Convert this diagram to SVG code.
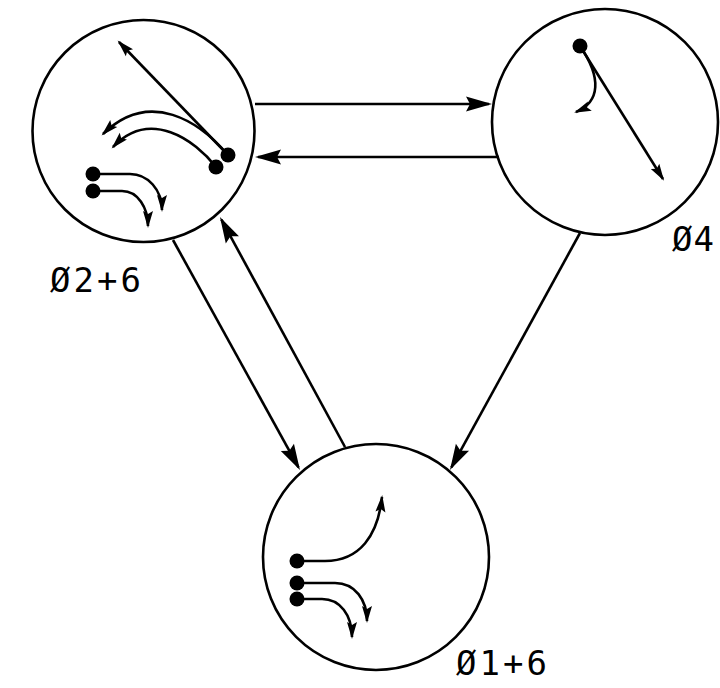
<svg xmlns="http://www.w3.org/2000/svg" width="720" height="688" viewBox="0 0 720 688">
<style>
.node{fill:none;stroke:#000;stroke-width:2.6}
.edge{fill:none;stroke:#000;stroke-width:2.6;marker-end:url(#big)}
.inner{fill:none;stroke:#000;stroke-width:2.6;marker-end:url(#small)}
.dot{fill:#000}
.lbl{font-family:"DejaVu Sans Mono","Liberation Mono",monospace;font-size:34px;letter-spacing:3px;fill:#000}
</style>
<defs>
<marker id="big" markerUnits="userSpaceOnUse" viewBox="-26 -10 32 20" refX="0" refY="0" markerWidth="32" markerHeight="20" orient="auto">
<path d="M3,0 L-23,-7.5 L-19,0 L-23,7.5 Z" fill="#000"/>
</marker>
<marker id="small" markerUnits="userSpaceOnUse" viewBox="-20 -7 24 14" refX="0" refY="0" markerWidth="24" markerHeight="14" orient="auto">
<path d="M2,0 L-15,-5 L-12,0 L-15,5 Z" fill="#000"/>
</marker>
</defs>
<rect width="720" height="688" fill="#fff"/>
<g id="connectors">
<path class="edge" d="M255,104 L489,104"/>
<path class="edge" d="M499,157 L258,157"/>
<path class="edge" d="M173,240 L298.5,467.4"/>
<path class="edge" d="M345,447 L221.4,219.6"/>
<path class="edge" d="M580,233 L451.4,467.4"/>
</g>
<g id="node-02-6">
<circle class="node" cx="143.5" cy="131" r="111"/>
<path class="inner" d="M228,155 L119,42"/>
<path class="inner" d="M228,155 C200,122 150,88 103,134"/>
<path class="inner" d="M216,167 C195,140 150,108 113,147"/>
<path class="inner" d="M93,174 L130,174 C148,174 162,190 162,210"/>
<path class="inner" d="M93,191 L122,191 C138,191 148,208 148,226"/>
<circle class="dot" cx="228" cy="155" r="7.5"/>
<circle class="dot" cx="216" cy="167" r="7.5"/>
<circle class="dot" cx="93" cy="174" r="7.5"/>
<circle class="dot" cx="93" cy="191" r="7.5"/>
<text class="lbl" x="50" y="292">Ø2+6</text>
</g>
<g id="node-04">
<circle class="node" cx="605" cy="122" r="113"/>
<path class="inner" d="M580,46 L663,179"/>
<path class="inner" d="M580,46 C602,78 600,102 576,112"/>
<circle class="dot" cx="580" cy="46" r="7.5"/>
<text class="lbl" x="672" y="251" style="letter-spacing:1px">Ø4</text>
</g>
<g id="node-01-6">
<circle class="node" cx="376" cy="557" r="113"/>
<path class="inner" d="M297,561 L325,561 C360,561 378,535 382,497"/>
<path class="inner" d="M297,583 L335,583 C355,583 367,600 367,621"/>
<path class="inner" d="M297,599 L322,599 C340,599 352,615 352,637"/>
<circle class="dot" cx="297" cy="561" r="7.5"/>
<circle class="dot" cx="297" cy="583" r="7.5"/>
<circle class="dot" cx="297" cy="599" r="7.5"/>
<text class="lbl" x="456" y="675">Ø1+6</text>
</g>
</svg>
